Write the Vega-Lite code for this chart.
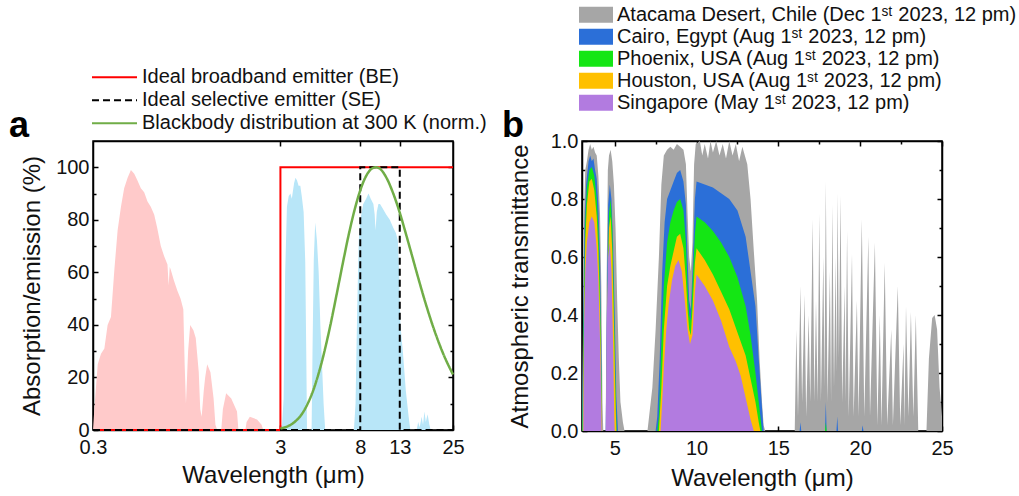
{
"$schema": "https://vega.github.io/schema/vega-lite/v6.json",
"padding": {"left": 8, "top": 3, "right": 0, "bottom": 0},
"config": {
  "font": "Liberation Sans",
  "view": {"stroke": "black", "strokeWidth": 1.5},
  "axis": {"labelFontSize": 20, "titleFontSize": 24, "titleFontWeight": "normal", "labelColor": "#111", "titleColor": "#111", "domainColor": "#000", "tickColor": "#000", "domainWidth": 1.5, "tickWidth": 1.5, "grid": false, "labelFlush": false, "labelOverlap": false, "labelFont": "Liberation Sans", "titleFont": "Liberation Sans"},
  "legend": {"labelFontSize": 20, "labelColor": "#111", "labelFont": "Liberation Sans", "labelLimit": 700}
},
"datasets": {
"solar": [
{"w":0.3,"v":0},{"w":0.305,"v":8},{"w":0.318,"v":25},{"w":0.331,"v":29},{"w":0.345,"v":31},{"w":0.359,"v":40},{"w":0.374,"v":43},{"w":0.39,"v":61},{"w":0.406,"v":76},{"w":0.423,"v":85},{"w":0.44,"v":92},{"w":0.459,"v":96},{"w":0.478,"v":99},{"w":0.498,"v":97.5},{"w":0.518,"v":95},{"w":0.54,"v":92},{"w":0.5625,"v":90.5},{"w":0.586,"v":87},{"w":0.61,"v":85},{"w":0.636,"v":82},{"w":0.66,"v":77},{"w":0.69,"v":70},{"w":0.72,"v":66},{"w":0.749,"v":63},{"w":0.76,"v":55},{"w":0.77,"v":62},{"w":0.78,"v":61},{"w":0.81,"v":57},{"w":0.846,"v":53},{"w":0.88,"v":50},{"w":0.91,"v":46},{"w":0.925,"v":25},{"w":0.94,"v":10},{"w":0.955,"v":22},{"w":0.965,"v":30},{"w":0.99,"v":40},{"w":1.03,"v":38},{"w":1.06,"v":35},{"w":1.1,"v":22},{"w":1.12,"v":8},{"w":1.14,"v":5},{"w":1.17,"v":15},{"w":1.19,"v":20},{"w":1.22,"v":25},{"w":1.27,"v":22},{"w":1.32,"v":12},{"w":1.35,"v":2},{"w":1.38,"v":0},{"w":1.45,"v":0},{"w":1.48,"v":8},{"w":1.54,"v":14},{"w":1.64,"v":12},{"w":1.76,"v":7},{"w":1.79,"v":0},{"w":1.95,"v":0},{"w":1.98,"v":3},{"w":2.06,"v":5},{"w":2.25,"v":4},{"w":2.38,"v":2},{"w":2.43,"v":0}
],
"window": [
{"w":3.05,"v":0},{"w":3.12,"v":12},{"w":3.18,"v":60},{"w":3.25,"v":85},{"w":3.32,"v":89},{"w":3.39,"v":90},{"w":3.45,"v":88},{"w":3.55,"v":94},{"w":3.61,"v":96},{"w":3.68,"v":95},{"w":3.75,"v":93},{"w":3.83,"v":93},{"w":3.9,"v":89},{"w":3.99,"v":83},{"w":4.07,"v":64},{"w":4.12,"v":30},{"w":4.16,"v":0},{"w":4.4,"v":0},{"w":4.45,"v":30},{"w":4.52,"v":65},{"w":4.6,"v":79},{"w":4.7,"v":72},{"w":4.8,"v":60},{"w":4.9,"v":40},{"w":5.0,"v":25},{"w":5.1,"v":10},{"w":5.2,"v":0},{"w":7.4,"v":0},{"w":7.55,"v":10},{"w":7.7,"v":45},{"w":7.85,"v":72},{"w":8.0,"v":80},{"w":8.3,"v":86},{"w":8.6,"v":88},{"w":8.85,"v":90},{"w":9.1,"v":88},{"w":9.4,"v":86},{"w":9.55,"v":82},{"w":9.65,"v":76},{"w":9.8,"v":83},{"w":10.0,"v":86},{"w":10.2,"v":86},{"w":10.6,"v":84},{"w":11.0,"v":82},{"w":11.5,"v":80},{"w":12.0,"v":77},{"w":12.4,"v":75},{"w":12.7,"v":72},{"w":12.9,"v":60},{"w":13.1,"v":40},{"w":13.5,"v":30},{"w":14.0,"v":15},{"w":14.5,"v":5},{"w":14.8,"v":0},{"w":16.0,"v":0},{"w":16.3,"v":3},{"w":16.6,"v":1},{"w":17.0,"v":5},{"w":17.3,"v":2},{"w":17.6,"v":7},{"w":17.9,"v":3},{"w":18.3,"v":6},{"w":18.7,"v":2},{"w":19.0,"v":0}
],
"lines": [
{"series":"BE","k":0,"w":0.3,"v":0},{"series":"BE","k":1,"w":3,"v":0},{"series":"BE","k":2,"w":3,"v":100},{"series":"BE","k":3,"w":25,"v":100},
{"series":"SE","k":0,"w":0.3,"v":0},{"series":"SE","k":1,"w":8,"v":0},{"series":"SE","k":2,"w":8,"v":100},{"series":"SE","k":3,"w":13,"v":100},{"series":"SE","k":4,"w":13,"v":0},{"series":"SE","k":5,"w":25,"v":0},
{"series":"BB","k":0,"w":3,"v":0.56},{"series":"BB","k":1,"w":3.25,"v":1.29},{"series":"BB","k":2,"w":3.5,"v":2.55},{"series":"BB","k":3,"w":4,"v":7.25},{"series":"BB","k":4,"w":4.5,"v":15.3},{"series":"BB","k":5,"w":5,"v":26.2},{"series":"BB","k":6,"w":5.5,"v":38.8},{"series":"BB","k":7,"w":6,"v":52.0},{"series":"BB","k":8,"w":6.5,"v":64.5},{"series":"BB","k":9,"w":7,"v":75.5},{"series":"BB","k":10,"w":7.5,"v":84.4},{"series":"BB","k":11,"w":8,"v":91.2},{"series":"BB","k":12,"w":8.5,"v":96.0},{"series":"BB","k":13,"w":9,"v":98.8},{"series":"BB","k":14,"w":9.66,"v":100},{"series":"BB","k":15,"w":10,"v":99.8},{"series":"BB","k":16,"w":11,"v":96.2},{"series":"BB","k":17,"w":12,"v":90.0},{"series":"BB","k":18,"w":13,"v":82.7},{"series":"BB","k":19,"w":14,"v":74.8},{"series":"BB","k":20,"w":15,"v":67.2},{"series":"BB","k":21,"w":16,"v":60.0},{"series":"BB","k":22,"w":18,"v":47.4},{"series":"BB","k":23,"w":20,"v":37.4},{"series":"BB","k":24,"w":22,"v":29.6},{"series":"BB","k":25,"w":25,"v":21.1}
],
"trans": [
{"s":"A","w":3.0,"t":0},{"s":"A","w":3.05,"t":0.3},{"s":"A","w":3.12,"t":0.75},{"s":"A","w":3.2,"t":0.9},{"s":"A","w":3.3,"t":0.93},{"s":"A","w":3.4,"t":0.97},{"s":"A","w":3.5,"t":0.99},{"s":"A","w":3.6,"t":0.97},{"s":"A","w":3.7,"t":0.98},{"s":"A","w":3.8,"t":0.96},{"s":"A","w":3.9,"t":0.95},{"s":"A","w":4.0,"t":0.88},{"s":"A","w":4.1,"t":0.75},{"s":"A","w":4.18,"t":0.5},{"s":"A","w":4.25,"t":0.1},{"s":"A","w":4.3,"t":0},{"s":"A","w":4.45,"t":0},{"s":"A","w":4.5,"t":0.5},{"s":"A","w":4.58,"t":0.9},{"s":"A","w":4.65,"t":0.95},{"s":"A","w":4.75,"t":0.97},{"s":"A","w":4.85,"t":0.93},{"s":"A","w":4.95,"t":0.85},{"s":"A","w":5.05,"t":0.7},{"s":"A","w":5.15,"t":0.45},{"s":"A","w":5.25,"t":0.25},{"s":"A","w":5.35,"t":0.1},{"s":"A","w":5.5,"t":0.03},{"s":"A","w":5.6,"t":0},{"s":"A","w":7.0,"t":0},{"s":"A","w":7.1,"t":0.05},{"s":"A","w":7.3,"t":0.15},{"s":"A","w":7.5,"t":0.35},{"s":"A","w":7.7,"t":0.6},{"s":"A","w":7.85,"t":0.85},{"s":"A","w":8.0,"t":0.95},{"s":"A","w":8.2,"t":0.97},{"s":"A","w":8.4,"t":0.98},{"s":"A","w":8.6,"t":0.97},{"s":"A","w":8.8,"t":0.99},{"s":"A","w":9.0,"t":0.98},{"s":"A","w":9.2,"t":0.97},{"s":"A","w":9.35,"t":0.92},{"s":"A","w":9.45,"t":0.75},{"s":"A","w":9.55,"t":0.6},{"s":"A","w":9.65,"t":0.55},{"s":"A","w":9.75,"t":0.65},{"s":"A","w":9.85,"t":0.92},{"s":"A","w":9.95,"t":0.99},{"s":"A","w":10.2,"t":1.0},{"s":"A","w":10.35,"t":0.95},{"s":"A","w":10.5,"t":0.99},{"s":"A","w":10.7,"t":0.94},{"s":"A","w":10.85,"t":1.0},{"s":"A","w":11.0,"t":0.96},{"s":"A","w":11.2,"t":1.0},{"s":"A","w":11.4,"t":0.95},{"s":"A","w":11.6,"t":0.99},{"s":"A","w":11.8,"t":0.94},{"s":"A","w":12.0,"t":1.0},{"s":"A","w":12.2,"t":0.95},{"s":"A","w":12.4,"t":0.99},{"s":"A","w":12.6,"t":0.93},{"s":"A","w":12.8,"t":0.98},{"s":"A","w":12.95,"t":0.95},{"s":"A","w":13.1,"t":0.92},{"s":"A","w":13.3,"t":0.8},{"s":"A","w":13.5,"t":0.62},{"s":"A","w":13.7,"t":0.45},{"s":"A","w":13.85,"t":0.25},{"s":"A","w":14.0,"t":0.1},{"s":"A","w":14.1,"t":0.02},{"s":"A","w":14.2,"t":0},{"s":"A","w":16.0,"t":0},{"s":"A","w":16.1,"t":0.35},{"s":"A","w":16.2,"t":0.05},{"s":"A","w":16.35,"t":0.5},{"s":"A","w":16.45,"t":0.1},{"s":"A","w":16.6,"t":0.47},{"s":"A","w":16.7,"t":0.05},{"s":"A","w":16.85,"t":0.4},{"s":"A","w":16.95,"t":0.1},{"s":"A","w":17.1,"t":0.73},{"s":"A","w":17.2,"t":0.1},{"s":"A","w":17.3,"t":0.45},{"s":"A","w":17.4,"t":0.1},{"s":"A","w":17.5,"t":0.75},{"s":"A","w":17.6,"t":0.1},{"s":"A","w":17.75,"t":0.6},{"s":"A","w":17.82,"t":0.15},{"s":"A","w":17.9,"t":0.86},{"s":"A","w":18.0,"t":0.1},{"s":"A","w":18.15,"t":0.55},{"s":"A","w":18.22,"t":0.1},{"s":"A","w":18.3,"t":0.78},{"s":"A","w":18.4,"t":0.15},{"s":"A","w":18.5,"t":0.6},{"s":"A","w":18.55,"t":0.2},{"s":"A","w":18.62,"t":0.82},{"s":"A","w":18.7,"t":0.25},{"s":"A","w":18.8,"t":0.81},{"s":"A","w":18.9,"t":0.1},{"s":"A","w":19.05,"t":0.5},{"s":"A","w":19.1,"t":0.1},{"s":"A","w":19.2,"t":0.69},{"s":"A","w":19.3,"t":0.05},{"s":"A","w":19.5,"t":0.61},{"s":"A","w":19.6,"t":0.05},{"s":"A","w":19.8,"t":0.45},{"s":"A","w":19.9,"t":0.05},{"s":"A","w":20.1,"t":0.73},{"s":"A","w":20.25,"t":0.05},{"s":"A","w":20.5,"t":0.67},{"s":"A","w":20.6,"t":0.05},{"s":"A","w":20.9,"t":0.65},{"s":"A","w":21.05,"t":0.02},{"s":"A","w":21.2,"t":0.4},{"s":"A","w":21.3,"t":0.02},{"s":"A","w":21.5,"t":0.58},{"s":"A","w":21.65,"t":0.02},{"s":"A","w":21.9,"t":0.35},{"s":"A","w":22.0,"t":0.02},{"s":"A","w":22.3,"t":0.5},{"s":"A","w":22.45,"t":0.02},{"s":"A","w":22.65,"t":0.3},{"s":"A","w":22.7,"t":0.02},{"s":"A","w":22.8,"t":0.43},{"s":"A","w":22.95,"t":0.05},{"s":"A","w":23.1,"t":0.41},{"s":"A","w":23.25,"t":0.05},{"s":"A","w":23.4,"t":0.4},{"s":"A","w":23.55,"t":0},{"s":"A","w":24.05,"t":0},{"s":"A","w":24.2,"t":0.25},{"s":"A","w":24.4,"t":0.39},{"s":"A","w":24.55,"t":0.4},{"s":"A","w":24.7,"t":0.35},{"s":"A","w":24.85,"t":0.15},{"s":"A","w":25.0,"t":0.05},
{"s":"C","w":3.0,"t":0},{"s":"C","w":3.08,"t":0.4},{"s":"C","w":3.15,"t":0.7},{"s":"C","w":3.25,"t":0.85},{"s":"C","w":3.4,"t":0.93},{"s":"C","w":3.5,"t":0.95},{"s":"C","w":3.6,"t":0.93},{"s":"C","w":3.7,"t":0.94},{"s":"C","w":3.8,"t":0.9},{"s":"C","w":3.9,"t":0.87},{"s":"C","w":4.0,"t":0.78},{"s":"C","w":4.1,"t":0.6},{"s":"C","w":4.18,"t":0.3},{"s":"C","w":4.22,"t":0},{"s":"C","w":4.45,"t":0},{"s":"C","w":4.52,"t":0.4},{"s":"C","w":4.6,"t":0.78},{"s":"C","w":4.7,"t":0.85},{"s":"C","w":4.8,"t":0.8},{"s":"C","w":4.9,"t":0.65},{"s":"C","w":5.0,"t":0.4},{"s":"C","w":5.1,"t":0.12},{"s":"C","w":5.2,"t":0},{"s":"C","w":7.5,"t":0},{"s":"C","w":7.6,"t":0.05},{"s":"C","w":7.75,"t":0.25},{"s":"C","w":7.9,"t":0.55},{"s":"C","w":8.05,"t":0.72},{"s":"C","w":8.2,"t":0.8},{"s":"C","w":8.4,"t":0.83},{"s":"C","w":8.6,"t":0.86},{"s":"C","w":8.8,"t":0.89},{"s":"C","w":9.0,"t":0.9},{"s":"C","w":9.2,"t":0.86},{"s":"C","w":9.35,"t":0.78},{"s":"C","w":9.45,"t":0.6},{"s":"C","w":9.55,"t":0.45},{"s":"C","w":9.65,"t":0.42},{"s":"C","w":9.75,"t":0.55},{"s":"C","w":9.9,"t":0.8},{"s":"C","w":10.0,"t":0.86},{"s":"C","w":10.5,"t":0.85},{"s":"C","w":11.0,"t":0.84},{"s":"C","w":11.5,"t":0.82},{"s":"C","w":12.0,"t":0.8},{"s":"C","w":12.5,"t":0.76},{"s":"C","w":13.0,"t":0.67},{"s":"C","w":13.3,"t":0.55},{"s":"C","w":13.6,"t":0.43},{"s":"C","w":13.8,"t":0.25},{"s":"C","w":14.0,"t":0.08},{"s":"C","w":14.1,"t":0},{"s":"C","w":16.3,"t":0},{"s":"C","w":16.35,"t":0.03},{"s":"C","w":16.4,"t":0},{"s":"C","w":17.85,"t":0},{"s":"C","w":17.9,"t":0.1},{"s":"C","w":17.95,"t":0},{"s":"C","w":18.55,"t":0},{"s":"C","w":18.6,"t":0.05},{"s":"C","w":18.65,"t":0},{"s":"C","w":20.1,"t":0},{"s":"C","w":20.15,"t":0.02},{"s":"C","w":20.2,"t":0},
{"s":"P","w":3.02,"t":0},{"s":"P","w":3.1,"t":0.4},{"s":"P","w":3.2,"t":0.72},{"s":"P","w":3.3,"t":0.84},{"s":"P","w":3.45,"t":0.9},{"s":"P","w":3.6,"t":0.91},{"s":"P","w":3.75,"t":0.88},{"s":"P","w":3.9,"t":0.8},{"s":"P","w":4.0,"t":0.7},{"s":"P","w":4.1,"t":0.5},{"s":"P","w":4.18,"t":0.2},{"s":"P","w":4.22,"t":0},{"s":"P","w":4.47,"t":0},{"s":"P","w":4.55,"t":0.45},{"s":"P","w":4.65,"t":0.75},{"s":"P","w":4.75,"t":0.8},{"s":"P","w":4.85,"t":0.7},{"s":"P","w":4.95,"t":0.45},{"s":"P","w":5.05,"t":0.15},{"s":"P","w":5.12,"t":0},{"s":"P","w":7.6,"t":0},{"s":"P","w":7.7,"t":0.05},{"s":"P","w":7.85,"t":0.3},{"s":"P","w":8.0,"t":0.5},{"s":"P","w":8.2,"t":0.65},{"s":"P","w":8.4,"t":0.72},{"s":"P","w":8.6,"t":0.76},{"s":"P","w":8.8,"t":0.79},{"s":"P","w":9.0,"t":0.8},{"s":"P","w":9.2,"t":0.76},{"s":"P","w":9.35,"t":0.65},{"s":"P","w":9.45,"t":0.5},{"s":"P","w":9.55,"t":0.4},{"s":"P","w":9.65,"t":0.38},{"s":"P","w":9.75,"t":0.5},{"s":"P","w":9.9,"t":0.68},{"s":"P","w":10.0,"t":0.74},{"s":"P","w":10.5,"t":0.72},{"s":"P","w":11.0,"t":0.69},{"s":"P","w":11.5,"t":0.65},{"s":"P","w":12.0,"t":0.6},{"s":"P","w":12.5,"t":0.53},{"s":"P","w":13.0,"t":0.43},{"s":"P","w":13.3,"t":0.33},{"s":"P","w":13.6,"t":0.2},{"s":"P","w":13.8,"t":0.1},{"s":"P","w":14.0,"t":0},{"s":"P","w":17.85,"t":0},{"s":"P","w":17.9,"t":0.03},{"s":"P","w":17.95,"t":0},
{"s":"H","w":3.05,"t":0},{"s":"H","w":3.12,"t":0.35},{"s":"H","w":3.2,"t":0.65},{"s":"H","w":3.3,"t":0.78},{"s":"H","w":3.45,"t":0.86},{"s":"H","w":3.6,"t":0.87},{"s":"H","w":3.75,"t":0.83},{"s":"H","w":3.9,"t":0.74},{"s":"H","w":4.0,"t":0.62},{"s":"H","w":4.1,"t":0.42},{"s":"H","w":4.18,"t":0.15},{"s":"H","w":4.22,"t":0},{"s":"H","w":4.47,"t":0},{"s":"H","w":4.55,"t":0.4},{"s":"H","w":4.65,"t":0.7},{"s":"H","w":4.75,"t":0.74},{"s":"H","w":4.85,"t":0.62},{"s":"H","w":4.95,"t":0.38},{"s":"H","w":5.05,"t":0.1},{"s":"H","w":5.1,"t":0},{"s":"H","w":7.7,"t":0},{"s":"H","w":7.85,"t":0.15},{"s":"H","w":8.0,"t":0.35},{"s":"H","w":8.2,"t":0.5},{"s":"H","w":8.4,"t":0.57},{"s":"H","w":8.6,"t":0.62},{"s":"H","w":8.8,"t":0.67},{"s":"H","w":9.0,"t":0.68},{"s":"H","w":9.2,"t":0.63},{"s":"H","w":9.35,"t":0.52},{"s":"H","w":9.45,"t":0.42},{"s":"H","w":9.55,"t":0.35},{"s":"H","w":9.65,"t":0.33},{"s":"H","w":9.75,"t":0.42},{"s":"H","w":9.9,"t":0.58},{"s":"H","w":10.0,"t":0.63},{"s":"H","w":10.5,"t":0.59},{"s":"H","w":11.0,"t":0.54},{"s":"H","w":11.5,"t":0.48},{"s":"H","w":12.0,"t":0.42},{"s":"H","w":12.5,"t":0.34},{"s":"H","w":13.0,"t":0.26},{"s":"H","w":13.3,"t":0.18},{"s":"H","w":13.6,"t":0.1},{"s":"H","w":13.8,"t":0.03},{"s":"H","w":13.9,"t":0},
{"s":"S","w":3.08,"t":0},{"s":"S","w":3.12,"t":0.35},{"s":"S","w":3.2,"t":0.55},{"s":"S","w":3.3,"t":0.65},{"s":"S","w":3.45,"t":0.72},{"s":"S","w":3.6,"t":0.74},{"s":"S","w":3.75,"t":0.72},{"s":"S","w":3.9,"t":0.63},{"s":"S","w":4.0,"t":0.52},{"s":"S","w":4.1,"t":0.32},{"s":"S","w":4.18,"t":0.1},{"s":"S","w":4.2,"t":0},{"s":"S","w":4.45,"t":0},{"s":"S","w":4.5,"t":0.35},{"s":"S","w":4.6,"t":0.6},{"s":"S","w":4.7,"t":0.65},{"s":"S","w":4.8,"t":0.55},{"s":"S","w":4.9,"t":0.3},{"s":"S","w":4.97,"t":0.05},{"s":"S","w":5.0,"t":0},{"s":"S","w":7.8,"t":0},{"s":"S","w":7.9,"t":0.1},{"s":"S","w":8.0,"t":0.22},{"s":"S","w":8.15,"t":0.35},{"s":"S","w":8.3,"t":0.44},{"s":"S","w":8.5,"t":0.52},{"s":"S","w":8.7,"t":0.57},{"s":"S","w":8.9,"t":0.59},{"s":"S","w":9.1,"t":0.55},{"s":"S","w":9.3,"t":0.44},{"s":"S","w":9.45,"t":0.35},{"s":"S","w":9.6,"t":0.3},{"s":"S","w":9.75,"t":0.33},{"s":"S","w":9.9,"t":0.48},{"s":"S","w":10.0,"t":0.54},{"s":"S","w":10.5,"t":0.5},{"s":"S","w":11.0,"t":0.45},{"s":"S","w":11.5,"t":0.38},{"s":"S","w":12.0,"t":0.29},{"s":"S","w":12.4,"t":0.24},{"s":"S","w":12.7,"t":0.19},{"s":"S","w":12.9,"t":0.14},{"s":"S","w":13.1,"t":0.09},{"s":"S","w":13.3,"t":0.04},{"s":"S","w":13.5,"t":0}
]
},
"spacing": 13,
"hconcat": [
{
  "width": 360, "height": 289,
  "title": {"text": "a", "anchor": "start", "frame": "group", "dx": -84, "offset": -107, "baseline": "alphabetic", "fontSize": 36, "fontWeight": "bold", "color": "#000", "font": "Liberation Sans"},
  "layer": [
    {"data": {"name": "solar"}, "mark": {"type": "area", "color": "#ffcaca", "opacity": 1},
     "encoding": {
       "x": {"field": "w", "type": "quantitative", "scale": {"type": "log", "domain": [0.3, 25], "nice": false},
             "axis": {"orient": "bottom", "values": [0.3, 3, 8, 13, 25], "format": "~g", "title": "Wavelength (μm)", "tickSize": -5, "labelPadding": 12, "titlePadding": 6}},
       "y": {"field": "v", "type": "quantitative", "scale": {"domain": [0, 110], "nice": false},
             "axis": {"orient": "left", "values": [0,10,20,30,40,50,60,70,80,90,100], "labelExpr": "datum.value % 20 == 0 ? datum.label : ''", "tickSize": {"condition": {"test": "datum.value % 20 == 0", "value": -5}, "value": -3}, "labelPadding": 9, "title": "Absorption/emission (%)", "titlePadding": 11}}
     }},
    {"data": {"name": "window"}, "mark": {"type": "area", "color": "#b8e6f8", "opacity": 1},
     "encoding": {
       "x": {"field": "w", "type": "quantitative", "axis": null},
       "y": {"field": "v", "type": "quantitative", "axis": null}
     }},
    {"data": {"name": "lines"}, "transform": [{"filter": "datum.series == 'BE'"}], "mark": {"type": "line", "strokeWidth": 2},
     "encoding": {
       "x": {"field": "w", "type": "quantitative", "axis": null},
       "y": {"field": "v", "type": "quantitative", "axis": null},
       "order": {"field": "k", "type": "quantitative"},
       "color": {"field": "series", "type": "nominal", "scale": {"domain": ["BE", "SE", "BB"], "range": ["#ff0000", "#000000", "#70ad47"]},
                 "legend": {"title": null, "orient": "none", "legendX": -2, "legendY": -75, "symbolType": "stroke", "symbolSize": 2025, "symbolStrokeWidth": 2, "labelOffset": 4, "clipHeight": 22.5, "rowPadding": 0, "labelExpr": "datum.label == 'BE' ? 'Ideal broadband emitter (BE)' : datum.label == 'SE' ? 'Ideal selective emitter (SE)' : 'Blackbody distribution at 300 K (norm.)'"}},
       "strokeDash": {"field": "series", "type": "nominal", "scale": {"domain": ["BE", "SE", "BB"], "range": [[1, 0], [7, 4], [1, 0]]},
                 "legend": {"title": null, "orient": "none", "legendX": -2, "legendY": -75, "symbolType": "stroke", "symbolSize": 2025, "symbolStrokeWidth": 2, "labelOffset": 4, "clipHeight": 22.5, "rowPadding": 0, "labelExpr": "datum.label == 'BE' ? 'Ideal broadband emitter (BE)' : datum.label == 'SE' ? 'Ideal selective emitter (SE)' : 'Blackbody distribution at 300 K (norm.)'"}}
     }},
    {"data": {"name": "lines"}, "transform": [{"filter": "datum.series == 'SE'"}], "mark": {"type": "line", "strokeWidth": 2},
     "encoding": {
       "x": {"field": "w", "type": "quantitative", "axis": null},
       "y": {"field": "v", "type": "quantitative", "axis": null},
       "order": {"field": "k", "type": "quantitative"},
       "color": {"field": "series", "type": "nominal", "scale": {"domain": ["BE", "SE", "BB"], "range": ["#ff0000", "#000000", "#70ad47"]},
                 "legend": {"title": null, "orient": "none", "legendX": -2, "legendY": -75, "symbolType": "stroke", "symbolSize": 2025, "symbolStrokeWidth": 2, "labelOffset": 4, "clipHeight": 22.5, "rowPadding": 0, "labelExpr": "datum.label == 'BE' ? 'Ideal broadband emitter (BE)' : datum.label == 'SE' ? 'Ideal selective emitter (SE)' : 'Blackbody distribution at 300 K (norm.)'"}},
       "strokeDash": {"field": "series", "type": "nominal", "scale": {"domain": ["BE", "SE", "BB"], "range": [[1, 0], [7, 4], [1, 0]]},
                 "legend": {"title": null, "orient": "none", "legendX": -2, "legendY": -75, "symbolType": "stroke", "symbolSize": 2025, "symbolStrokeWidth": 2, "labelOffset": 4, "clipHeight": 22.5, "rowPadding": 0, "labelExpr": "datum.label == 'BE' ? 'Ideal broadband emitter (BE)' : datum.label == 'SE' ? 'Ideal selective emitter (SE)' : 'Blackbody distribution at 300 K (norm.)'"}}
     }},
    {"data": {"name": "lines"}, "transform": [{"filter": "datum.series == 'BB'"}], "mark": {"type": "line", "strokeWidth": 2.5, "interpolate": "monotone"},
     "encoding": {
       "x": {"field": "w", "type": "quantitative", "axis": null},
       "y": {"field": "v", "type": "quantitative", "axis": null},
       "order": {"field": "k", "type": "quantitative"},
       "color": {"field": "series", "type": "nominal", "scale": {"domain": ["BE", "SE", "BB"], "range": ["#ff0000", "#000000", "#70ad47"]},
                 "legend": {"title": null, "orient": "none", "legendX": -2, "legendY": -75, "symbolType": "stroke", "symbolSize": 2025, "symbolStrokeWidth": 2, "labelOffset": 4, "clipHeight": 22.5, "rowPadding": 0, "labelExpr": "datum.label == 'BE' ? 'Ideal broadband emitter (BE)' : datum.label == 'SE' ? 'Ideal selective emitter (SE)' : 'Blackbody distribution at 300 K (norm.)'"}},
       "strokeDash": {"field": "series", "type": "nominal", "scale": {"domain": ["BE", "SE", "BB"], "range": [[1, 0], [7, 4], [1, 0]]},
                 "legend": {"title": null, "orient": "none", "legendX": -2, "legendY": -75, "symbolType": "stroke", "symbolSize": 2025, "symbolStrokeWidth": 2, "labelOffset": 4, "clipHeight": 22.5, "rowPadding": 0, "labelExpr": "datum.label == 'BE' ? 'Ideal broadband emitter (BE)' : datum.label == 'SE' ? 'Ideal selective emitter (SE)' : 'Blackbody distribution at 300 K (norm.)'"}}
     }},
    {"data": {"name": "lines"}, "mark": {"type": "point", "opacity": 0},
     "encoding": {
       "x": {"field": "w", "type": "quantitative", "axis": {"orient": "top", "values": [3, 8, 13], "labels": false, "title": null, "tickSize": -5}},
       "y": {"field": "v", "type": "quantitative", "axis": {"orient": "right", "values": [10,20,30,40,50,60,70,80,90,100], "labels": false, "title": null, "tickSize": {"condition": {"test": "datum.value % 20 == 0", "value": -5}, "value": -3}}}
     }}
  ],
  "resolve": {"axis": {"x": "independent", "y": "independent"}}
},
{
  "width": 360, "height": 290,
  "title": {"text": "b", "anchor": "start", "frame": "group", "dx": -80, "offset": -169, "baseline": "alphabetic", "fontSize": 36, "fontWeight": "bold", "color": "#000", "font": "Liberation Sans"},
  "layer": [
    {"data": {"name": "trans"}, "transform": [{"filter": "datum.s == 'A'"}], "mark": {"type": "area", "opacity": 1},
     "encoding": {
       "x": {"field": "w", "type": "quantitative", "scale": {"domain": [3, 25], "nice": false, "zero": false},
             "axis": {"orient": "bottom", "values": [5, 7.5, 10, 12.5, 15, 17.5, 20, 22.5, 25], "labelExpr": "datum.value % 5 == 0 ? datum.label : ''", "tickSize": {"condition": {"test": "datum.value % 5 == 0", "value": -5}, "value": -3}, "labelPadding": 12, "title": "Wavelength (μm)", "titlePadding": 6}},
       "y": {"field": "t", "type": "quantitative", "stack": null, "scale": {"domain": [0, 1], "nice": false},
             "axis": {"orient": "left", "values": [0, 0.1, 0.2, 0.3, 0.4, 0.5, 0.6, 0.7, 0.8, 0.9, 1.0], "format": ".1f", "labelExpr": "round(datum.value*10) % 2 == 0 ? datum.label : ''", "tickSize": {"condition": {"test": "round(datum.value*10) % 2 == 0", "value": -5}, "value": -3}, "labelPadding": 9, "title": "Atmospheric transmittance", "titlePadding": 18}},
       "color": {"field": "s", "type": "nominal", "scale": {"domain": ["A", "C", "P", "H", "S"], "range": ["#a6a6a6", "#2b6fd8", "#14e614", "#ffc000", "#b27be0"]},
                 "legend": {"title": null, "orient": "none", "legendX": -3, "legendY": -137, "symbolType": "M-1,-0.47H1V0.47H-1Z", "symbolSize": 1156, "symbolStrokeWidth": 0, "symbolOpacity": 1, "labelOffset": 4, "clipHeight": 21.7, "rowPadding": 0, "labelExpr": "datum.label == 'A' ? 'Atacama Desert, Chile (Dec 1ˢᵗ 2023, 12 pm)' : datum.label == 'C' ? 'Cairo, Egypt (Aug 1ˢᵗ 2023, 12 pm)' : datum.label == 'P' ? 'Phoenix, USA (Aug 1ˢᵗ 2023, 12 pm)' : datum.label == 'H' ? 'Houston, USA (Aug 1ˢᵗ 2023, 12 pm)' : 'Singapore (May 1ˢᵗ 2023, 12 pm)'"}}
     }},
    {"data": {"name": "trans"}, "transform": [{"filter": "datum.s == 'C'"}], "mark": {"type": "area", "opacity": 1},
     "encoding": {
       "x": {"field": "w", "type": "quantitative", "axis": null},
       "y": {"field": "t", "type": "quantitative", "stack": null, "axis": null},
       "color": {"field": "s", "type": "nominal", "scale": {"domain": ["A", "C", "P", "H", "S"], "range": ["#a6a6a6", "#2b6fd8", "#14e614", "#ffc000", "#b27be0"]},
                 "legend": {"title": null, "orient": "none", "legendX": -3, "legendY": -137, "symbolType": "M-1,-0.47H1V0.47H-1Z", "symbolSize": 1156, "symbolStrokeWidth": 0, "symbolOpacity": 1, "labelOffset": 4, "clipHeight": 21.7, "rowPadding": 0, "labelExpr": "datum.label == 'A' ? 'Atacama Desert, Chile (Dec 1ˢᵗ 2023, 12 pm)' : datum.label == 'C' ? 'Cairo, Egypt (Aug 1ˢᵗ 2023, 12 pm)' : datum.label == 'P' ? 'Phoenix, USA (Aug 1ˢᵗ 2023, 12 pm)' : datum.label == 'H' ? 'Houston, USA (Aug 1ˢᵗ 2023, 12 pm)' : 'Singapore (May 1ˢᵗ 2023, 12 pm)'"}}
     }},
    {"data": {"name": "trans"}, "transform": [{"filter": "datum.s == 'P'"}], "mark": {"type": "area", "opacity": 1},
     "encoding": {
       "x": {"field": "w", "type": "quantitative", "axis": null},
       "y": {"field": "t", "type": "quantitative", "stack": null, "axis": null},
       "color": {"field": "s", "type": "nominal", "scale": {"domain": ["A", "C", "P", "H", "S"], "range": ["#a6a6a6", "#2b6fd8", "#14e614", "#ffc000", "#b27be0"]},
                 "legend": {"title": null, "orient": "none", "legendX": -3, "legendY": -137, "symbolType": "M-1,-0.47H1V0.47H-1Z", "symbolSize": 1156, "symbolStrokeWidth": 0, "symbolOpacity": 1, "labelOffset": 4, "clipHeight": 21.7, "rowPadding": 0, "labelExpr": "datum.label == 'A' ? 'Atacama Desert, Chile (Dec 1ˢᵗ 2023, 12 pm)' : datum.label == 'C' ? 'Cairo, Egypt (Aug 1ˢᵗ 2023, 12 pm)' : datum.label == 'P' ? 'Phoenix, USA (Aug 1ˢᵗ 2023, 12 pm)' : datum.label == 'H' ? 'Houston, USA (Aug 1ˢᵗ 2023, 12 pm)' : 'Singapore (May 1ˢᵗ 2023, 12 pm)'"}}
     }},
    {"data": {"name": "trans"}, "transform": [{"filter": "datum.s == 'H'"}], "mark": {"type": "area", "opacity": 1},
     "encoding": {
       "x": {"field": "w", "type": "quantitative", "axis": null},
       "y": {"field": "t", "type": "quantitative", "stack": null, "axis": null},
       "color": {"field": "s", "type": "nominal", "scale": {"domain": ["A", "C", "P", "H", "S"], "range": ["#a6a6a6", "#2b6fd8", "#14e614", "#ffc000", "#b27be0"]},
                 "legend": {"title": null, "orient": "none", "legendX": -3, "legendY": -137, "symbolType": "M-1,-0.47H1V0.47H-1Z", "symbolSize": 1156, "symbolStrokeWidth": 0, "symbolOpacity": 1, "labelOffset": 4, "clipHeight": 21.7, "rowPadding": 0, "labelExpr": "datum.label == 'A' ? 'Atacama Desert, Chile (Dec 1ˢᵗ 2023, 12 pm)' : datum.label == 'C' ? 'Cairo, Egypt (Aug 1ˢᵗ 2023, 12 pm)' : datum.label == 'P' ? 'Phoenix, USA (Aug 1ˢᵗ 2023, 12 pm)' : datum.label == 'H' ? 'Houston, USA (Aug 1ˢᵗ 2023, 12 pm)' : 'Singapore (May 1ˢᵗ 2023, 12 pm)'"}}
     }},
    {"data": {"name": "trans"}, "transform": [{"filter": "datum.s == 'S'"}], "mark": {"type": "area", "opacity": 1},
     "encoding": {
       "x": {"field": "w", "type": "quantitative", "axis": null},
       "y": {"field": "t", "type": "quantitative", "stack": null, "axis": null},
       "color": {"field": "s", "type": "nominal", "scale": {"domain": ["A", "C", "P", "H", "S"], "range": ["#a6a6a6", "#2b6fd8", "#14e614", "#ffc000", "#b27be0"]},
                 "legend": {"title": null, "orient": "none", "legendX": -3, "legendY": -137, "symbolType": "M-1,-0.47H1V0.47H-1Z", "symbolSize": 1156, "symbolStrokeWidth": 0, "symbolOpacity": 1, "labelOffset": 4, "clipHeight": 21.7, "rowPadding": 0, "labelExpr": "datum.label == 'A' ? 'Atacama Desert, Chile (Dec 1ˢᵗ 2023, 12 pm)' : datum.label == 'C' ? 'Cairo, Egypt (Aug 1ˢᵗ 2023, 12 pm)' : datum.label == 'P' ? 'Phoenix, USA (Aug 1ˢᵗ 2023, 12 pm)' : datum.label == 'H' ? 'Houston, USA (Aug 1ˢᵗ 2023, 12 pm)' : 'Singapore (May 1ˢᵗ 2023, 12 pm)'"}}
     }},
    {"data": {"name": "trans"}, "mark": {"type": "point", "opacity": 0},
     "encoding": {
       "x": {"field": "w", "type": "quantitative", "axis": {"orient": "top", "values": [5, 7.5, 10, 12.5, 15, 17.5, 20, 22.5, 25], "labels": false, "title": null, "tickSize": {"condition": {"test": "datum.value % 5 == 0", "value": -5}, "value": -3}}},
       "y": {"field": "t", "type": "quantitative", "axis": {"orient": "right", "values": [0, 0.1, 0.2, 0.3, 0.4, 0.5, 0.6, 0.7, 0.8, 0.9, 1.0], "labels": false, "title": null, "tickSize": {"condition": {"test": "round(datum.value*10) % 2 == 0", "value": -5}, "value": -3}}}
     }}
  ],
  "resolve": {"axis": {"x": "independent", "y": "independent"}}
}
],
"resolve": {"scale": {"color": "independent", "strokeDash": "independent"}, "legend": {"color": "independent", "strokeDash": "independent"}}
}
